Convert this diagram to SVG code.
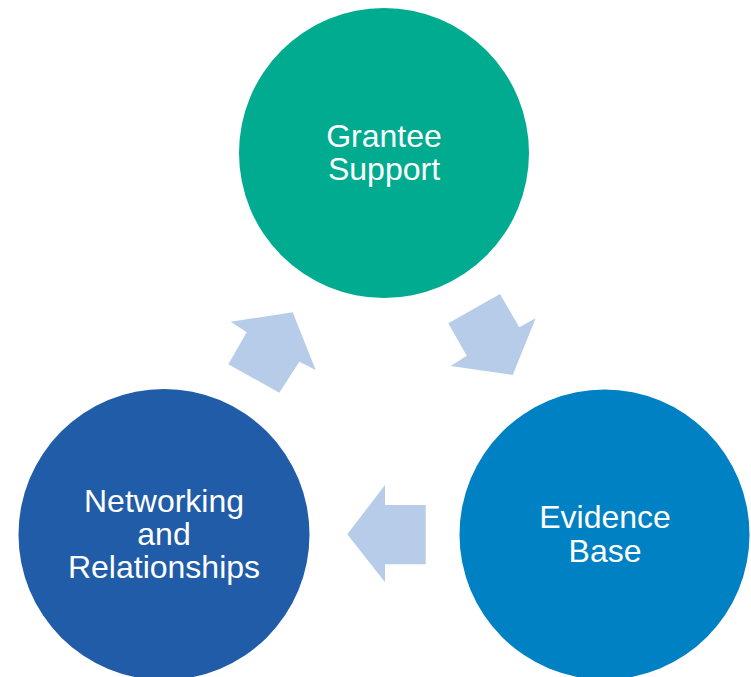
<svg xmlns="http://www.w3.org/2000/svg" width="751" height="677" viewBox="0 0 751 677">
<style>
.lbl{font-family:"Liberation Sans",Arial,sans-serif;font-size:32px;fill:#ffffff;text-anchor:middle}
.arr{fill:#B7CCE8}
</style>
<rect width="751" height="677" fill="#ffffff"/>
<g id="connectors">
<polygon class="arr" points="292.7,312.3 315.7,370 299.3,361.7 279.3,392.7 228.3,364.3 246.7,332.3 230.7,321.7"/>
<polygon class="arr" points="512.7,375 450.7,366 466.7,355.7 448.3,323.3 500,294 519.3,327.3 535.7,318.3"/>
<polygon class="arr" points="347.3,534.3 385,485 385,505 425.7,505 425.7,564.3 385,564.3 385,582.3"/>
</g>
<g id="grantee-support">
<circle cx="384" cy="153" r="145" fill="#00AB8F"/>
<text class="lbl" x="384" y="146.5">Grantee</text>
<text class="lbl" x="384" y="179.5">Support</text>
</g>
<g id="evidence-base">
<circle cx="604.5" cy="534.5" r="145" fill="#0081C4"/>
<text class="lbl" x="605" y="528">Evidence</text>
<text class="lbl" x="605" y="561.5">Base</text>
</g>
<g id="networking">
<circle cx="164" cy="534.5" r="145.5" fill="#215CA8"/>
<text class="lbl" x="164" y="512">Networking</text>
<text class="lbl" x="164" y="545">and</text>
<text class="lbl" x="164" y="578">Relationships</text>
</g>
</svg>
